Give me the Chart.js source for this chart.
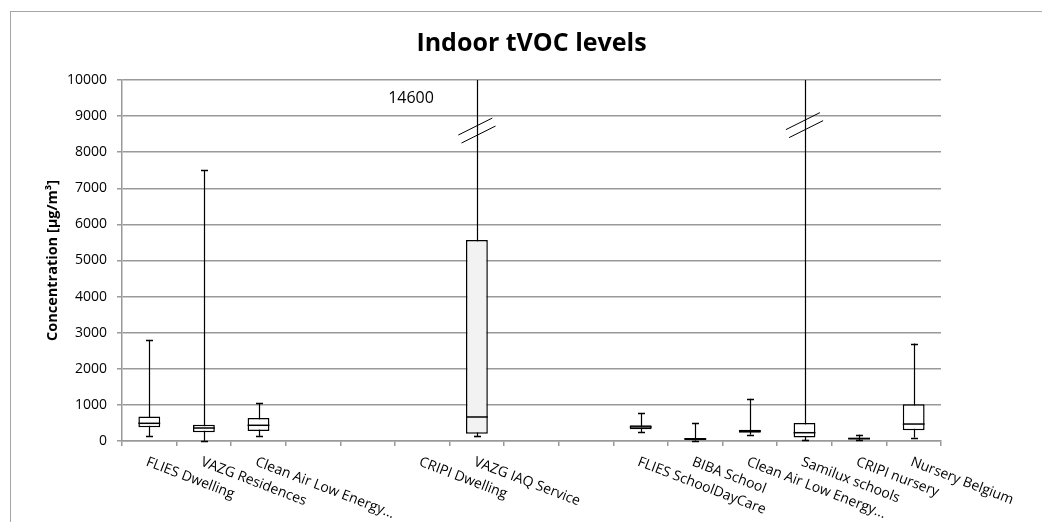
<!DOCTYPE html>
<html>
<head>
<meta charset="utf-8">
<script src="https://cdn.jsdelivr.net/npm/chart.js@4/dist/chart.umd.min.js"></script>
<style>
  html, body { margin: 0; padding: 0; background: #fff; }
  #wrap { width: 1042px; height: 522px; }
</style>
</head>
<body>
<div id="wrap"><canvas id="tvocChart" width="1042" height="522"></canvas></div>
<script>
// ─── Data ──────────────────────────────────────────────────────────────────────
const chartTitle = 'Indoor tVOC levels';
const yAxisTitle = 'Concentration [µg/m³]';

const categories = [
  'FLIES Dwelling', 'VAZG Residences', 'Clean Air Low Energy...', '', '',
  'CRIPI Dwelling', 'VAZG IAQ Service', '', '',
  'FLIES SchoolDayCare', 'BIBA School', 'Clean Air Low Energy...',
  'Samilux schools', 'CRIPI nursery', 'Nursery Belgium'
];

const whiskerMin = [140, 10, 140, null, null, null, 130, null, null, 250, 10, 175, 20, 20, 95];
const quartile1  = [380, 240, 275, null, null, null, 200, null, null, 325, 30, 230, 95, 40, 295];
const medians    = [490, 360, 435, null, null, null, 665, null, null, 390, 55, 275, 230, 65, 470];
const quartile3  = [680, 450, 640, null, null, null, 5570, null, null, 435, 85, 315, 500, 95, 1015];
const whiskerMax = [2800, 7500, 1040, null, null, null, 14600, null, null, 770, 500, 1170, 14600, 175, 2700];

const boxFills = ['#ffffff', '#ffffff', '#ffffff', null, null, null, '#f2f2f2', null, null,
                  '#ffffff', '#ffffff', '#ffffff', '#ffffff', '#ffffff', '#ffffff'];

// values beyond the axis get a break mark on the whisker
const breakIndex = [6, 12];
const breakValue = [8600, 8750];
const offAxisLabel = '14600';   // shown next to the VAZG IAQ Service whisker
const offAxisIndex = 6;

const yTicksMax = 10000;
const yTicksStep = 1000;

// ─── Helpers ───────────────────────────────────────────────────────────────────
const FONT = "'Open Sans', 'Liberation Sans', sans-serif";
const GRID = '#999999';

const boxData = categories.map((c, i) =>
  quartile1[i] == null ? null : [quartile1[i], quartile3[i]]);

// ─── Box-plot extras (whiskers, medians, labels) ───────────────────────────────
const boxPlotPlugin = {
  id: 'boxPlotExtras',
  beforeDraw(chart) {
    const ctx = chart.ctx;
    ctx.save();
    ctx.fillStyle = '#fff';
    ctx.fillRect(0, 0, chart.width, chart.height);
    ctx.strokeStyle = '#a6a6a6';
    ctx.lineWidth = 1;
    ctx.strokeRect(10.5, 11.5, chart.width + 10, chart.height + 10);
    ctx.restore();
  },
  beforeDatasetsDraw(chart) {
    const { ctx, chartArea } = chart;
    const y = chart.scales.y;
    const meta = chart.getDatasetMeta(0);
    ctx.save();
    ctx.beginPath();
    ctx.rect(chartArea.left, chartArea.top, chartArea.right - chartArea.left, chartArea.bottom - chartArea.top + 2);
    ctx.clip();
    ctx.strokeStyle = '#000';
    ctx.lineWidth = 1.2;
    meta.data.forEach((bar, i) => {
      if (quartile1[i] == null) return;
      const x = Math.round(bar.x) + 0.5;
      const cap = 3.5;
      const pMin = y.getPixelForValue(whiskerMin[i]);
      const pMax = y.getPixelForValue(whiskerMax[i]);
      ctx.beginPath();
      ctx.moveTo(x, pMin);
      ctx.lineTo(x, pMax);
      ctx.stroke();
      ctx.lineWidth = 1.6;
      ctx.beginPath();
      ctx.moveTo(x - cap, Math.round(pMin) + 0.5);
      ctx.lineTo(x + cap, Math.round(pMin) + 0.5);
      if (whiskerMax[i] <= yTicksMax) {
        ctx.moveTo(x - cap, Math.round(pMax) + 0.5);
        ctx.lineTo(x + cap, Math.round(pMax) + 0.5);
      }
      ctx.stroke();
      ctx.lineWidth = 1.2;
    });
    ctx.restore();
  },
  afterDatasetsDraw(chart) {
    const { ctx, chartArea } = chart;
    const y = chart.scales.y;
    const xs = chart.scales.x;
    const meta = chart.getDatasetMeta(0);
    ctx.save();
    ctx.strokeStyle = '#000';
    ctx.lineWidth = 1.5;
    // medians
    meta.data.forEach((bar, i) => {
      if (medians[i] == null) return;
      const half = bar.width / 2;
      const py = y.getPixelForValue(medians[i]);
      ctx.beginPath();
      ctx.moveTo(bar.x - half, py);
      ctx.lineTo(bar.x + half, py);
      ctx.stroke();
    });
    // axis break marks
    ctx.lineWidth = 1;
    breakIndex.forEach((idx, k) => {
      const bx = meta.data[idx].x;
      const by = y.getPixelForValue(breakValue[k]);
      [-4, 4].forEach(off => {
        ctx.beginPath();
        ctx.moveTo(bx - 17 + off * 0.4, by + 8.5 + off);
        ctx.lineTo(bx + 17 + off * 0.4, by - 8.5 + off);
        ctx.stroke();
      });
    });
    // off-axis max label
    ctx.fillStyle = '#000';
    ctx.font = '16px ' + FONT;
    ctx.textAlign = 'right';
    ctx.textBaseline = 'middle';
    ctx.fillText(offAxisLabel, xs.getPixelForValue(offAxisIndex) - 43, y.getPixelForValue(9500));

    // title
    ctx.font = 'bold 25px ' + FONT;
    ctx.textAlign = 'center';
    ctx.fillText(chartTitle, (chartArea.left + chartArea.right) / 2, 44);

    // rotated category labels
    ctx.font = '14px ' + FONT;
    ctx.textAlign = 'left';
    ctx.textBaseline = 'top';
    categories.forEach((label, i) => {
      if (!label) return;
      ctx.save();
      ctx.translate(xs.getPixelForValue(i), chartArea.bottom + 14);
      ctx.rotate(21 * Math.PI / 180);
      ctx.fillText(label, 0, 0);
      ctx.restore();
    });
    ctx.restore();
  }
};

// ─── Chart ─────────────────────────────────────────────────────────────────────
const ctx = document.getElementById('tvocChart');
new Chart(ctx, {
  type: 'bar',
  data: {
    labels: categories,
    datasets: [{
      data: boxData,
      backgroundColor: boxFills,
      borderColor: '#000',
      borderWidth: 1.5,
      borderSkipped: false,
      categoryPercentage: 1,
      barPercentage: 0.4
    }]
  },
  options: {
    responsive: false,
    animation: false,
    layout: { padding: { left: 0, right: 101, top: 80, bottom: 0 } },
    plugins: {
      legend: { display: false },
      tooltip: { enabled: false },
      title: { display: false }
    },
    scales: {
      x: {
        offset: true,
        ticks: { display: false },
        grid: { drawOnChartArea: false, offset: true, color: GRID, lineWidth: 1.5, tickLength: 5 },
        border: { color: GRID, width: 1.5 },
        afterFit: (scale) => { scale.height = 81; }
      },
      y: {
        min: 0,
        max: yTicksMax,
        ticks: {
          stepSize: yTicksStep,
          color: '#000',
          padding: 10,
          font: { family: FONT, size: 14 },
          callback: (v) => String(v)
        },
        grid: { color: GRID, lineWidth: 1.5, tickLength: 5 },
        border: { color: GRID, width: 1.5 },
        title: {
          display: true,
          text: yAxisTitle,
          color: '#000',
          font: { family: FONT, size: 14.5, weight: 'bold' },
          padding: { top: 44, bottom: 0 }
        },
        afterFit: (scale) => { scale.width = 122; }
      }
    }
  },
  plugins: [boxPlotPlugin]
});
</script>
</body>
</html>
